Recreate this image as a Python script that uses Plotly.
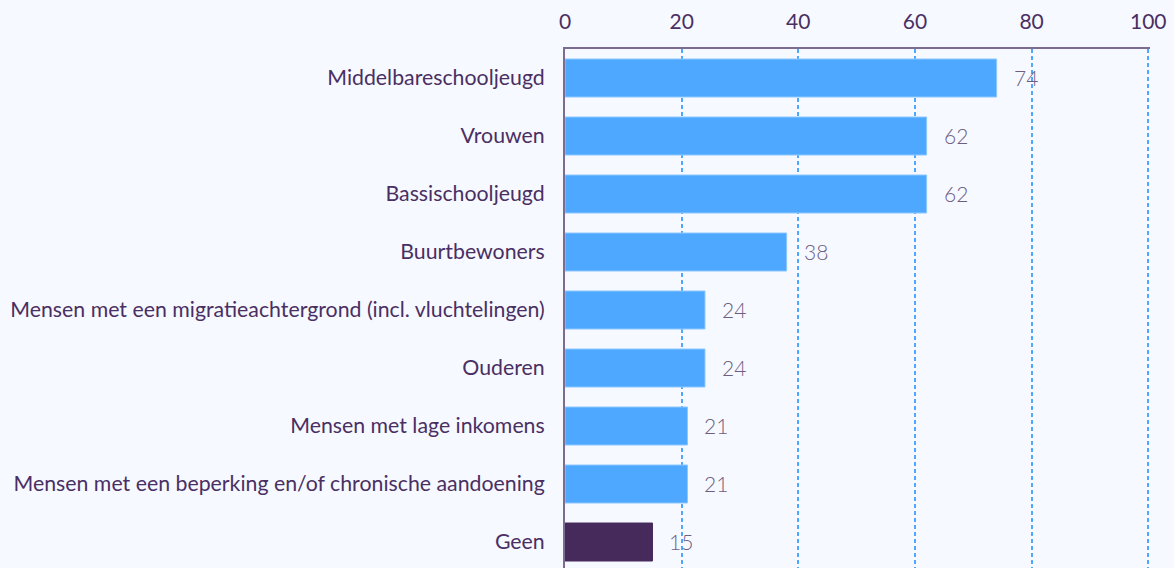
import plotly.graph_objects as go

categories = [
    "Middelbareschooljeugd",
    "Vrouwen",
    "Bassischooljeugd",
    "Buurtbewoners",
    "Mensen met een migratieachtergrond (incl. vluchtelingen)",
    "Ouderen",
    "Mensen met lage inkomens",
    "Mensen met een beperking en/of chronische aandoening",
    "Geen",
]
values = [74, 62, 62, 38, 24, 24, 21, 21, 15]
x_ticks = [0, 20, 40, 60, 80, 100]

BG = "#f6f9ff"
BLUE = "#4fa8ff"
PURPLE = "#472a5c"
colors = [BLUE] * (len(values) - 1) + [PURPLE]
line_colors = ["#8cc8ff"] * (len(values) - 1) + [PURPLE]

fig = go.Figure()
fig.add_trace(go.Bar(
    x=values,
    y=categories,
    orientation="h",
    marker=dict(color=colors, line=dict(color=line_colors, width=1)),
    hoverinfo="x+y",
))

for v, c in zip(values, categories):
    fig.add_annotation(
        x=v, y=c, text=str(v), showarrow=False,
        xanchor="left", xshift=15, yshift=1,
        font=dict(family="Lato", size=21, color="#6e5f82", weight=300),
    )

fig.update_layout(
    width=1174, height=568,
    margin=dict(l=565, r=24, t=49, b=0),
    paper_bgcolor=BG,
    plot_bgcolor=BG,
    bargap=0.345,
    showlegend=False,
    font=dict(family="Lato", color="#4a2f63"),
)
fig.update_xaxes(
    side="top",
    range=[0, 100.3],
    tickvals=x_ticks,
    tickfont=dict(family="Lato", size=21, color="#4a2f63"),
    showgrid=True,
    gridcolor="#4fa8ff",
    griddash="4px,3px",
    gridwidth=1.5,
    showline=True,
    linecolor="#7d6c92",
    linewidth=2,
    zeroline=False,
    ticks="outside",
    ticklen=10,
    tickcolor="rgba(0,0,0,0)",
)
fig.update_yaxes(
    categoryorder="array",
    categoryarray=categories,
    range=[len(categories) - 0.552, -0.5],
    tickfont=dict(family="Lato", size=21.3, color="#4a2f63"),
    showline=True,
    linecolor="#7d6c92",
    linewidth=2,
    showgrid=False,
    ticks="outside",
    ticklen=14,
    tickcolor="rgba(0,0,0,0)",
)

fig.write_html(
    "out.html",
    config={"displayModeBar": False},
    post_script=(
        "document.body.style.margin='0';"
        "document.body.style.overflow='hidden';"
        f"document.body.style.background='{BG}';"
    ),
)
